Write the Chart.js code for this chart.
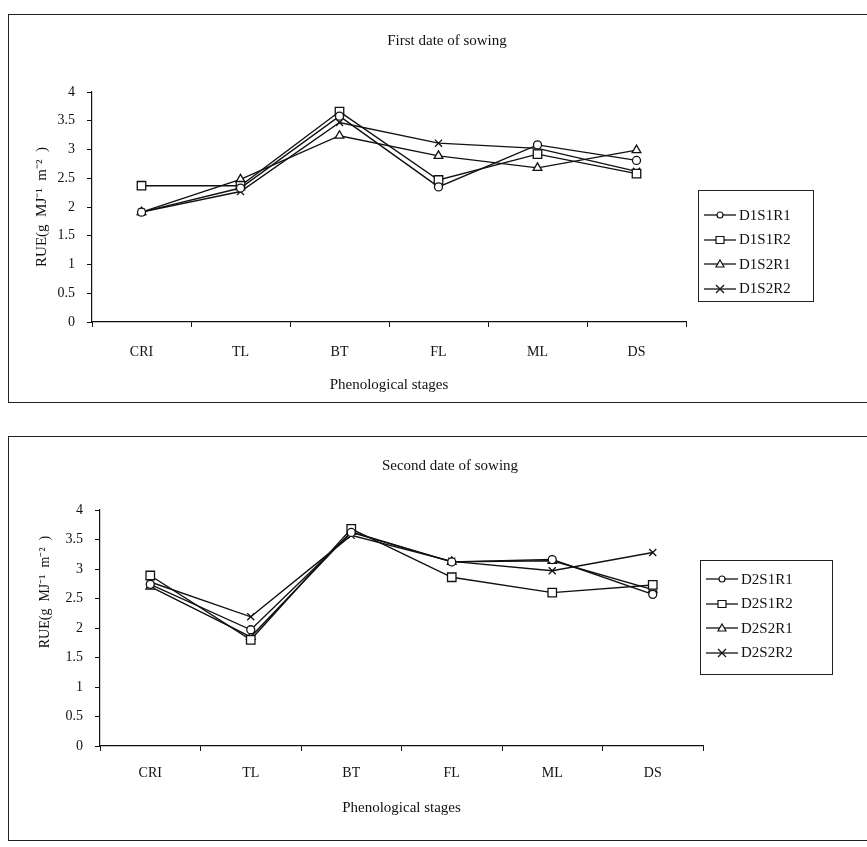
<!DOCTYPE html>
<html><head><meta charset="utf-8">
<script src="https://cdn.jsdelivr.net/npm/chart.js@4/dist/chart.umd.min.js"></script>
<style>
body{margin:0;background:#fff;width:867px;height:847px;overflow:hidden;position:relative;font-family:'Liberation Serif',serif;}
.panel{position:absolute;border:1.5px solid #222;}
.wrap{position:absolute;}
.ttl{position:absolute;font-size:15px;color:#111;white-space:nowrap;transform:translate(-50%,-50%);}
.legend{position:absolute;border:1px solid #222;background:#fff;}
.legend .row{position:absolute;left:5px;height:20px;display:flex;align-items:center;}
.legend .row span{font-size:15px;color:#111;margin-left:3px;white-space:nowrap}
</style></head><body>
<div class="panel" style="left:8px;top:14px;width:870px;height:387px"></div>
<div class="panel" style="left:8px;top:436px;width:870px;height:403px"></div>
<div class="wrap" style="left:10px;top:20px;width:700px;height:380px"><canvas id="c1"></canvas></div>
<div class="wrap" style="left:10px;top:440px;width:710px;height:385px"><canvas id="c2"></canvas></div>
<div class="ttl" id="t1" style="left:447px;top:40px"></div>
<div class="ttl" id="t2" style="left:450px;top:465px"></div>
<div class="legend" id="lg1" style="left:698px;top:190px;width:114px;height:110px"></div>
<div class="legend" id="lg2" style="left:700px;top:560px;width:131px;height:113px"></div>
<script>
// ---- data ----
const stages = ['CRI','TL','BT','FL','ML','DS'];
const yTicks = [0,0.5,1,1.5,2,2.5,3,3.5,4];

const names1 = ['D1S1R1','D1S1R2','D1S2R1','D1S2R2'];
const d1s1r1 = [1.91, 2.33, 3.58, 2.35, 3.08, 2.81];
const d1s1r2 = [2.37, 2.37, 3.66, 2.47, 2.92, 2.58];
const d1s2r1 = [1.91, 2.48, 3.24, 2.89, 2.68, 2.99];
const d1s2r2 = [1.91, 2.27, 3.47, 3.11, 3.02, 2.62];

const names2 = ['D2S1R1','D2S1R2','D2S2R1','D2S2R2'];
const d2s1r1 = [2.74, 1.97, 3.62, 3.12, 3.16, 2.57];
const d2s1r2 = [2.89, 1.80, 3.68, 2.86, 2.60, 2.73];
const d2s2r1 = [2.70, 1.85, 3.63, 3.12, 3.14, 2.65];
const d2s2r2 = [2.78, 2.19, 3.57, 3.13, 2.97, 3.28];

const title1 = 'First date of sowing';
const title2 = 'Second date of sowing';
const xTitle = 'Phenological stages';
const yTitle = 'RUE(g  MJ\u207B\u00B9  m\u207B\u00B2  )';

document.getElementById('t1').textContent = title1;
document.getElementById('t2').textContent = title2;

// ---- styles ----
const INK = '#111';
const FONT = "'Liberation Serif', 'Times New Roman', serif";
const markers = [
  {style:'circle', r:4},
  {style:'rect', r:6},
  {style:'triangle', r:5},
  {style:'crossRot', r:5}
];

const yTitlePlugin = {
  id:'yTitle',
  afterDraw(chart, args, opts){
    const ctx = chart.ctx;
    ctx.save();
    ctx.translate(opts.x, opts.y);
    ctx.rotate(-Math.PI/2);
    ctx.font = opts.size + 'px ' + FONT;
    ctx.fillStyle = INK;
    ctx.textAlign = 'center';
    ctx.textBaseline = 'middle';
    ctx.fillText(opts.text, 0, 0);
    ctx.restore();
  }
};

function makeChart(id, names, series, cfg){
  const datasets = series.map((vals, i) => ({
    label: names[i],
    data: vals,
    borderColor: INK,
    borderWidth: 1.4,
    pointStyle: markers[i].style,
    pointRadius: markers[i].r,
    pointBackgroundColor: '#fff',
    pointBorderColor: INK,
    pointBorderWidth: 1.3,
    tension: 0,
    fill: false
  }));
  return new Chart(document.getElementById(id), {
    type: 'line',
    data: { labels: stages, datasets },
    plugins: [yTitlePlugin],
    options: {
      responsive: true,
      maintainAspectRatio: false,
      animation: false,
      layout: { padding: { right: cfg.padRight, left: 0, top: cfg.padTop, bottom: 0 } },
      plugins: {
        legend: { display: false },
        tooltip: { enabled: false },
        title: { display: false },
        yTitle: { text: yTitle, x: cfg.yTitleX, y: cfg.yTitleY, size: cfg.yTitleSize }
      },
      scales: {
        x: {
          type: 'category',
          offset: true,
          grid: { display: true, offset: true, drawOnChartArea: false, drawTicks: true, tickLength: 5, color: INK },
          border: { display: true, color: INK, width: 1.2 },
          ticks: { color: INK, font: { family: FONT, size: 14 }, padding: cfg.xTickPad, maxRotation: 0 },
          title: { display: true, text: xTitle, color: INK, font: { family: FONT, size: 15 }, padding: { top: 0, bottom: cfg.xTitlePad } },
          afterFit: s => { s.height = cfg.xHeight; }
        },
        y: {
          min: 0, max: 4,
          afterBuildTicks: s => { s.ticks = yTicks.map(v => ({ value: v })); },
          grid: { display: true, drawOnChartArea: false, drawTicks: true, tickLength: 5, color: INK },
          border: { display: true, color: INK, width: 1.2 },
          ticks: { color: INK, font: { family: FONT, size: 14 }, padding: cfg.yTickPad, callback: v => String(v) },
          afterFit: s => { s.width = cfg.yWidth; }
        }
      }
    }
  });
}

makeChart('c1', names1, [d1s1r1, d1s1r2, d1s2r1, d1s2r2], {
  padRight: 24, padTop: 72, xTickPad: 17, xTitlePad: 6, xHeight: 78,
  yTickPad: 12, yWidth: 82, yTitleX: 32, yTitleY: 187, yTitleSize: 15
});
makeChart('c2', names2, [d2s1r1, d2s1r2, d2s2r1, d2s2r2], {
  padRight: 17, padTop: 70, xTickPad: 14, xTitlePad: 8, xHeight: 79,
  yTickPad: 12, yWidth: 90, yTitleX: 35, yTitleY: 152, yTitleSize: 14
});

// ---- legends ----
function drawMarker(ctx, style, x, y){
  ctx.strokeStyle = INK; ctx.fillStyle = '#fff'; ctx.lineWidth = 1.2;
  ctx.beginPath();
  if (style === 'circle') { ctx.arc(x, y, 3, 0, Math.PI*2); ctx.fill(); ctx.stroke(); }
  else if (style === 'rect') { ctx.rect(x-4, y-3.5, 8, 7); ctx.fill(); ctx.stroke(); }
  else if (style === 'triangle') { ctx.moveTo(x, y-4); ctx.lineTo(x+4, y+3); ctx.lineTo(x-4, y+3); ctx.closePath(); ctx.fill(); ctx.stroke(); }
  else { ctx.moveTo(x-4, y-4); ctx.lineTo(x+4, y+4); ctx.moveTo(x+4, y-4); ctx.lineTo(x-4, y+4); ctx.stroke(); }
}
function buildLegend(id, names, rowsTop, gap){
  const box = document.getElementById(id);
  names.forEach((n, i) => {
    const row = document.createElement('div');
    row.className = 'row';
    row.style.top = (rowsTop + i*gap - 10) + 'px';
    const cv = document.createElement('canvas');
    cv.width = 32; cv.height = 14;
    const ctx = cv.getContext('2d');
    ctx.strokeStyle = INK; ctx.lineWidth = 1.3;
    ctx.beginPath(); ctx.moveTo(0, 7); ctx.lineTo(32, 7); ctx.stroke();
    drawMarker(ctx, markers[i].style, 16, 7);
    const sp = document.createElement('span');
    sp.textContent = n;
    row.appendChild(cv); row.appendChild(sp);
    box.appendChild(row);
  });
}
buildLegend('lg1', names1, 24, 24.5);
buildLegend('lg2', names2, 18, 24.5);
</script>
</body></html>
